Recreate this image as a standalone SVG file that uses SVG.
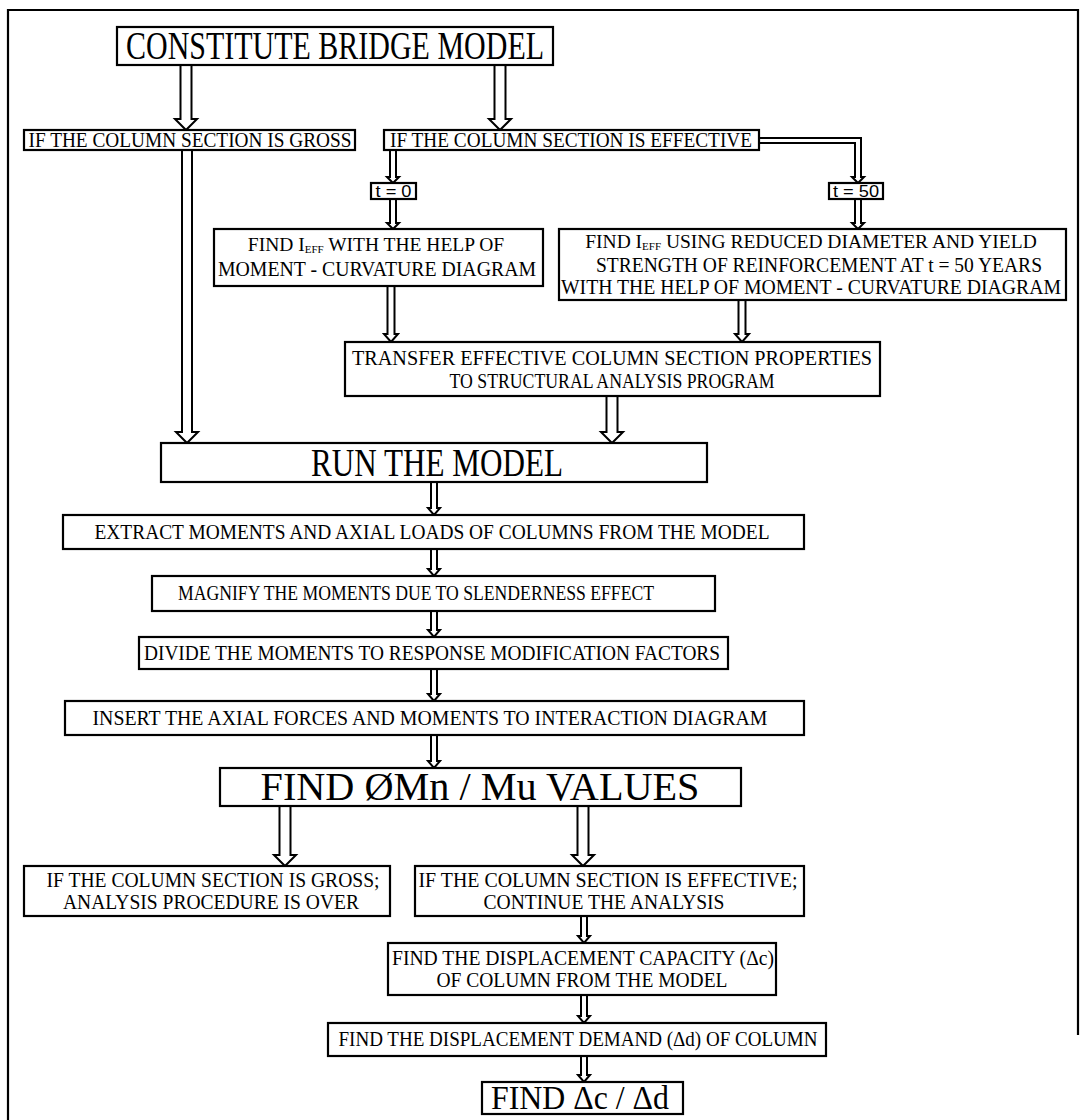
<svg xmlns="http://www.w3.org/2000/svg" width="1086" height="1120" viewBox="0 0 1086 1120">
<style>
.box{fill:#fff;stroke:#000;stroke-width:2.2}
.arr{fill:#fff;stroke:#000;stroke-width:2;stroke-linejoin:miter}
text{font-family:"Liberation Serif","Times New Roman",serif;fill:#000;text-anchor:middle}
.s{font-size:20px}
.s2{font-size:19.5px}
.b{font-size:40px}
.t{font-family:"Liberation Sans",Arial,sans-serif;font-size:16px}
.sub{font-size:11px}
</style>
<rect width="1086" height="1120" fill="#fff"/>
<path d="M8,1120 V10 H1078 V1035" fill="none" stroke="#000" stroke-width="2.2"/>
<g id="connectors">
<path class="arr" d="M180.5,65 V119 H175 L186,130 L197,119 H191.5 V65"/>
<path class="arr" d="M494.5,65 V119 H489 L500,130 L511,119 H505.5 V65"/>
<path class="arr" d="M182,150 V432 H176 L187,443 L198,432 H192 V150"/>
<path class="arr" d="M390,150 V177 H387 L393,183 L399,177 H396 V150"/>
<path class="arr" d="M390,199 V223 H387 L393,229 L399,223 H396 V199"/>
<path class="arr" d="M759,138 H861 V177 H864 L858,183 L852,177 H855 V143 H759"/>
<path class="arr" d="M855,199 V223 H852 L858,229 L864,223 H861 V199"/>
<path class="arr" d="M387.5,286 V334 H384 L391,342 L398,334 H394.5 V286"/>
<path class="arr" d="M738.5,300 V334 H735 L742,342 L749,334 H745.5 V300"/>
<path class="arr" d="M606.5,396 V432 H601 L612,443 L623,432 H617.5 V396"/>
<path class="arr" d="M431,482 V508 H428 L434,515 L440,508 H437 V482"/>
<path class="arr" d="M431,549 V569 H428 L434,576 L440,569 H437 V549"/>
<path class="arr" d="M431,611 V630 H428 L434,637 L440,630 H437 V611"/>
<path class="arr" d="M431,669 V694 H428 L434,701 L440,694 H437 V669"/>
<path class="arr" d="M431,735 V761 H428 L434,768 L440,761 H437 V735"/>
<path class="arr" d="M279.5,806 V855 H274 L285,866 L296,855 H290.5 V806"/>
<path class="arr" d="M577.5,806 V855 H572 L583,866 L594,855 H588.5 V806"/>
<path class="arr" d="M581,916 V936 H578 L584,943 L590,936 H587 V916"/>
<path class="arr" d="M581,995 V1016 H578 L584,1023 L590,1016 H587 V995"/>
<path class="arr" d="M581,1056 V1075 H578 L584,1082 L590,1075 H587 V1056"/>
</g>
<g id="n-constitute"><rect class="box" x="117" y="27" width="436" height="38"/><text class="b" x="335" y="59" textLength="418" lengthAdjust="spacingAndGlyphs">CONSTITUTE BRIDGE MODEL</text></g>
<g id="n-gross"><rect class="box" x="24" y="130" width="331" height="20"/><text class="s" x="190" y="146.8" textLength="323" lengthAdjust="spacingAndGlyphs">IF THE COLUMN SECTION IS GROSS</text></g>
<g id="n-effective"><rect class="box" x="384" y="130" width="375" height="20"/><text class="s" x="571" y="146.8" textLength="362" lengthAdjust="spacingAndGlyphs">IF THE COLUMN SECTION IS EFFECTIVE</text></g>
<g id="n-t0"><rect class="box" x="371" y="183" width="45" height="16"/><text class="t" x="393.5" y="197" textLength="36" lengthAdjust="spacingAndGlyphs">t = 0</text></g>
<g id="n-t50"><rect class="box" x="829" y="183" width="54" height="16"/><text class="t" x="856" y="197" textLength="46" lengthAdjust="spacingAndGlyphs">t = 50</text></g>
<g id="n-find1"><rect class="box" x="214" y="229" width="329" height="57"/>
<text class="s2" x="376" y="250.5">FIND I<tspan class="sub" dy="2">EFF</tspan><tspan dy="-2"> WITH THE HELP OF</tspan></text>
<text class="s" x="377" y="276" textLength="318" lengthAdjust="spacingAndGlyphs">MOMENT - CURVATURE DIAGRAM</text></g>
<g id="n-find2"><rect class="box" x="559" y="229" width="507" height="71"/>
<text class="s2" x="811" y="247.5">FIND I<tspan class="sub" dy="2">EFF</tspan><tspan dy="-2"> USING REDUCED DIAMETER AND YIELD</tspan></text>
<text class="s" x="819" y="272" textLength="446" lengthAdjust="spacingAndGlyphs">STRENGTH OF REINFORCEMENT AT t = 50 YEARS</text>
<text class="s" x="811" y="294" textLength="500" lengthAdjust="spacingAndGlyphs">WITH THE HELP OF MOMENT - CURVATURE DIAGRAM</text></g>
<g id="n-transfer"><rect class="box" x="345" y="342" width="535" height="54"/>
<text class="s" x="612" y="364.5" textLength="520" lengthAdjust="spacingAndGlyphs">TRANSFER EFFECTIVE COLUMN SECTION PROPERTIES</text>
<text class="s" x="612" y="387.5" textLength="325" lengthAdjust="spacingAndGlyphs">TO STRUCTURAL ANALYSIS PROGRAM</text></g>
<g id="n-run"><rect class="box" x="161" y="443" width="546" height="39"/><text class="b" x="437" y="476" textLength="252" lengthAdjust="spacingAndGlyphs">RUN THE MODEL</text></g>
<g id="n-extract"><rect class="box" x="63" y="515" width="741" height="34"/><text class="s" x="432" y="538.8" textLength="675" lengthAdjust="spacingAndGlyphs">EXTRACT MOMENTS AND AXIAL LOADS OF COLUMNS FROM THE MODEL</text></g>
<g id="n-magnify"><rect class="box" x="152" y="576" width="563" height="35"/><text class="s" x="416" y="600.3" textLength="476" lengthAdjust="spacingAndGlyphs">MAGNIFY THE MOMENTS DUE TO SLENDERNESS EFFECT</text></g>
<g id="n-divide"><rect class="box" x="139" y="637" width="589" height="32"/><text class="s" x="432" y="659.8" textLength="576" lengthAdjust="spacingAndGlyphs">DIVIDE THE MOMENTS TO RESPONSE MODIFICATION FACTORS</text></g>
<g id="n-insert"><rect class="box" x="65" y="701" width="739" height="34"/><text class="s" x="430" y="724.8" textLength="675" lengthAdjust="spacingAndGlyphs">INSERT THE AXIAL FORCES AND MOMENTS TO INTERACTION DIAGRAM</text></g>
<g id="n-findphi"><rect class="box" x="220" y="768" width="521" height="38"/><text class="b" x="480" y="800" textLength="439" lengthAdjust="spacingAndGlyphs">FIND ØMn / Mu VALUES</text></g>
<g id="n-grossend"><rect class="box" x="24" y="866" width="366" height="50"/>
<text class="s" x="213" y="886.8" textLength="333" lengthAdjust="spacingAndGlyphs">IF THE COLUMN SECTION IS GROSS;</text>
<text class="s" x="211" y="908.8" textLength="296" lengthAdjust="spacingAndGlyphs">ANALYSIS PROCEDURE IS OVER</text></g>
<g id="n-effcont"><rect class="box" x="415" y="866" width="389" height="50"/>
<text class="s" x="608" y="886.8" textLength="379" lengthAdjust="spacingAndGlyphs">IF THE COLUMN SECTION IS EFFECTIVE;</text>
<text class="s" x="604" y="908.8" textLength="241" lengthAdjust="spacingAndGlyphs">CONTINUE THE ANALYSIS</text></g>
<g id="n-dispcap"><rect class="box" x="388" y="943" width="388" height="52"/>
<text class="s" x="583" y="964.8" textLength="382" lengthAdjust="spacingAndGlyphs">FIND THE DISPLACEMENT CAPACITY (Δc)</text>
<text class="s" x="582" y="986.8" textLength="291" lengthAdjust="spacingAndGlyphs">OF COLUMN FROM THE MODEL</text></g>
<g id="n-dispdem"><rect class="box" x="328" y="1023" width="498" height="33"/><text class="s" x="578" y="1046.3" textLength="479" lengthAdjust="spacingAndGlyphs">FIND THE DISPLACEMENT DEMAND (Δd) OF COLUMN</text></g>
<g id="n-ratio"><rect class="box" x="482" y="1082" width="201" height="32"/><text x="580" y="1109" textLength="178" lengthAdjust="spacingAndGlyphs" style="font-size:34px">FIND Δc / Δd</text></g>
</svg>
